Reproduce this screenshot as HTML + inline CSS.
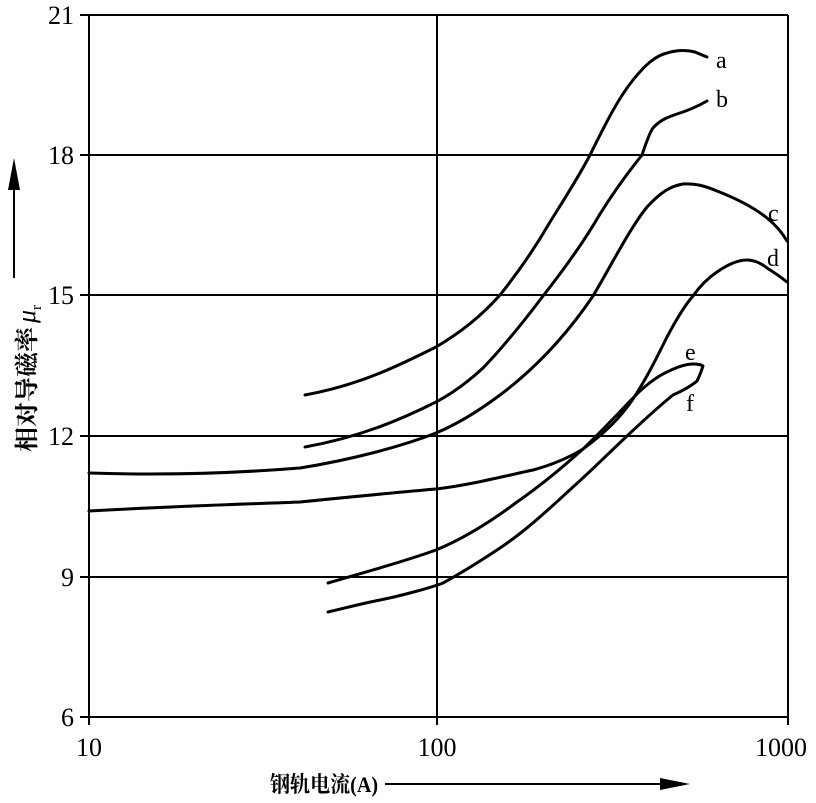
<!DOCTYPE html>
<html><head><meta charset="utf-8"><style>
body{margin:0;background:#fff}
svg{display:block}
text{font-family:"Liberation Serif","Noto Serif CJK SC",serif;fill:#000}
</style></head><body>
<svg width="816" height="803" viewBox="0 0 816 803" xmlns="http://www.w3.org/2000/svg">
<g stroke="#000" stroke-width="2" fill="none">
<line x1="80" y1="15" x2="788" y2="15"/>
<line x1="80" y1="155" x2="788" y2="155"/>
<line x1="80" y1="295" x2="788" y2="295"/>
<line x1="80" y1="436" x2="788" y2="436"/>
<line x1="80" y1="577" x2="788" y2="577"/>
<line x1="80" y1="717" x2="788" y2="717"/>
<line x1="89" y1="15" x2="89" y2="725"/>
<line x1="437" y1="15" x2="437" y2="725"/>
<line x1="788" y1="15" x2="788" y2="725"/>
</g>
<g stroke="#000" stroke-width="3" fill="none" stroke-linecap="round" stroke-linejoin="round">
<path d="M305,395 C360,385 400,365 436,347 C465,330 485,312 500,295 C520,270 535,248 550,222 C565,198 578,178 590,155 C605,125 617,100 633,80 C645,65 655,56 667,53 C677,50 687,50 695,52 C700,54 704,56 707,57"/>
<path d="M305,447 C360,437 400,420 436,402 C455,392 470,380 483,368 C505,345 525,320 543,296 C565,268 585,240 600,214 C615,190 630,170 642,155 C647,140 650,132 653,128 C660,120 668,117 677,114 C690,110 700,105 707,101"/>
<path d="M89,473 C180,476 250,472 300,468 C350,460 400,447 436,433 C460,423 480,410 500,395 C540,365 570,330 593,296 C612,264 630,228 647,207 C660,193 670,186 683,184 C695,183 705,186 717,191 C735,198 752,206 767,218 C777,226 783,234 787,241"/>
<path d="M89,511 C180,506 250,504 300,502 C350,497 400,492 436,489 C470,485 505,476 533,470 C555,464 570,457 583,449 C605,433 620,418 633,399 C648,376 658,355 667,337 C676,320 685,305 693,296 C700,286 708,278 717,272 C727,265 737,260 747,260 C755,260 762,264 767,268 C775,273 782,278 787,282"/>
<path d="M328,583 C365,572 400,563 436,550 C465,538 493,520 517,502 C540,486 563,467 583,449 C605,428 623,408 640,391 C650,382 658,376 667,372 C677,367 686,364 693,364 C698,364 702,365 703,366 C701,372 699,377 697,381 C690,387 682,391 673,395 C658,407 643,421 627,436 C610,452 592,470 573,487 C550,508 527,530 500,548 C482,560 463,572 443,583 C430,588 400,596 380,600 C360,604 345,608 328,612"/>
</g>
<g font-size="24">
<text x="716" y="68">a</text>
<text x="716" y="107">b</text>
<text x="768" y="221">c</text>
<text x="767" y="266">d</text>
<text x="685" y="360">e</text>
<text x="686" y="411">f</text>
</g>
<g font-size="26" text-anchor="end">
<text x="74" y="24">21</text>
<text x="74" y="164">18</text>
<text x="74" y="304">15</text>
<text x="74" y="445">12</text>
<text x="74" y="586">9</text>
<text x="74" y="726">6</text>
</g>
<g font-size="26" text-anchor="middle">
<text x="89" y="756">10</text>
<text x="437" y="756">100</text>
<text x="781" y="756">1000</text>
</g>
<text x="270" y="792" font-size="22" font-weight="bold" textLength="108" lengthAdjust="spacingAndGlyphs">钢轨电流(A)</text>
<line x1="385" y1="784" x2="670" y2="784" stroke="#000" stroke-width="2"/>
<polygon points="660,778 690,784 660,790" fill="#000"/>
<text transform="translate(35,452) rotate(-90)" font-size="24" font-weight="bold"><tspan textLength="125" lengthAdjust="spacingAndGlyphs">相对导磁率</tspan><tspan font-style="italic" font-weight="normal" font-size="26" dx="4">μ</tspan><tspan font-size="15" dy="6" font-weight="normal">r</tspan></text>
<line x1="14" y1="278" x2="14" y2="175" stroke="#000" stroke-width="2"/>
<polygon points="8,190 14,158 20,190" fill="#000"/>
</svg>
</body></html>
